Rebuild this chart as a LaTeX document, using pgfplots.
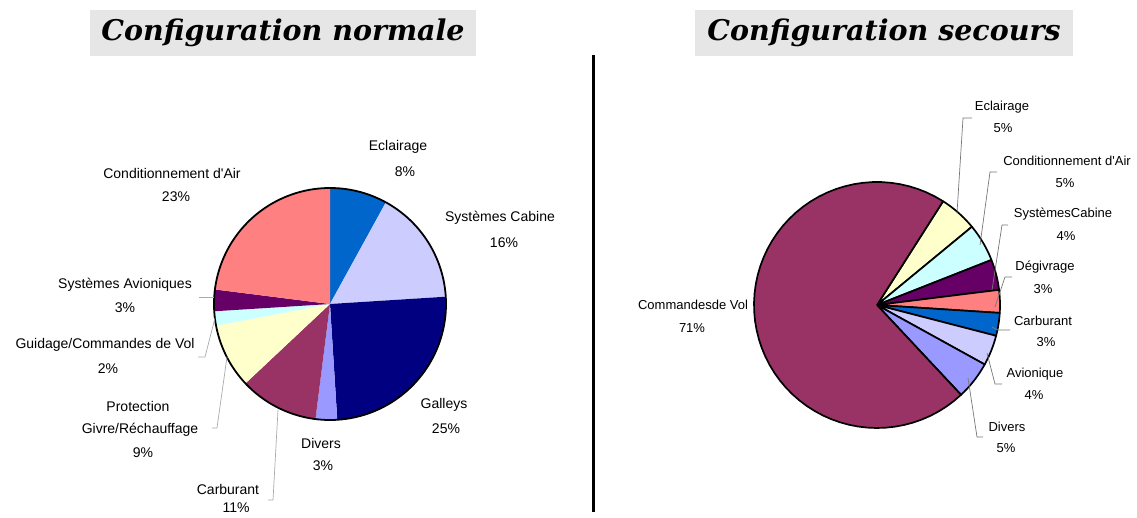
\documentclass[border=0pt]{standalone}
\usepackage{pgfplots}
\pgfplotsset{compat=1.18}
\usepackage{fontspec}
\setmainfont{Liberation Sans}
\newfontfamily\titlefont{DejaVu Serif}
\definecolor{cBlue}{HTML}{0066CC}
\definecolor{cLav}{HTML}{CCCCFF}
\definecolor{cNavy}{HTML}{000080}
\definecolor{cPeri}{HTML}{9999FF}
\definecolor{cMaroon}{HTML}{993366}
\definecolor{cYellow}{HTML}{FFFFCC}
\definecolor{cCyan}{HTML}{CCFFFF}
\definecolor{cPurple}{HTML}{660066}
\definecolor{cSalmon}{HTML}{FF8080}
\definecolor{titlegray}{HTML}{E6E6E6}
\definecolor{leader}{HTML}{AAAAAA}
\definecolor{leaderR}{HTML}{777777}
% sector: centre x, centre y, radius, end angle, start angle, colour, style
\newcommand{\pieSector}[7]{%
  \addplot[fill=#6, #7, domain=#4:#5, samples=60, variable=\t, forget plot]
    ({#1+#3*cos(\t)},{#2-#3*sin(\t)}) -- (axis cs:#1,#2) -- cycle;}
\newcommand{\pieLab}[4]{\node[font=\fontsize{#4}{#4}\selectfont, inner sep=0pt] at (axis cs:#1,#2) {#3};}
\begin{document}
\begin{tikzpicture}
\begin{axis}[x=1pt, y=1pt, xmin=0, xmax=1137, ymin=0, ymax=518,
  y dir=reverse, hide axis, clip=false]
\path (axis cs:0,0) rectangle (axis cs:1137,518);
% ---------- Configuration normale (percent: 8,16,25,3,11,9,2,3,23) ----------
\pieSector{330}{304}{116}{61.2}{90}{cBlue}{draw=none}        % Eclairage 8%
\pieSector{330}{304}{116}{3.6}{61.2}{cLav}{draw=none}        % Systemes Cabine 16%
\pieSector{330}{304}{116}{-86.4}{3.6}{cNavy}{draw=none}      % Galleys 25%
\pieSector{330}{304}{116}{-97.2}{-86.4}{cPeri}{draw=none}    % Divers 3%
\pieSector{330}{304}{116}{-136.8}{-97.2}{cMaroon}{draw=none} % Carburant 11%
\pieSector{330}{304}{116}{-169.2}{-136.8}{cYellow}{draw=none}% Protection 9%
\pieSector{330}{304}{116}{-176.4}{-169.2}{cCyan}{draw=none}  % Guidage 2%
\pieSector{330}{304}{116}{-187.2}{-176.4}{cPurple}{draw=none}% Avioniques 3%
\pieSector{330}{304}{116}{-270}{-187.2}{cSalmon}{draw=none}  % Conditionnement 23%
\addplot[black, line width=1.8pt, domain=0:360, samples=181, variable=\t, forget plot]
  ({330+116*cos(\t)},{304-116*sin(\t)});
% ---------- Configuration secours (percent: 5,5,4,3,3,4,5,71) ----------
\pieSector{877}{305}{123}{39.5}{57.5}{cYellow}{draw=black, line width=1.7pt, line join=round}
\pieSector{877}{305}{123}{21.5}{39.5}{cCyan}{draw=black, line width=1.7pt, line join=round}
\pieSector{877}{305}{123}{7.1}{21.5}{cPurple}{draw=black, line width=1.7pt, line join=round}
\pieSector{877}{305}{123}{-3.7}{7.1}{cSalmon}{draw=black, line width=1.7pt, line join=round}
\pieSector{877}{305}{123}{-14.5}{-3.7}{cBlue}{draw=black, line width=1.7pt, line join=round}
\pieSector{877}{305}{123}{-28.9}{-14.5}{cLav}{draw=black, line width=1.7pt, line join=round}
\pieSector{877}{305}{123}{-46.9}{-28.9}{cPeri}{draw=black, line width=1.7pt, line join=round}
\pieSector{877}{305}{123}{-302.5}{-46.9}{cMaroon}{draw=black, line width=1.7pt, line join=round}
% ---------- titles ----------
\node[fill=titlegray, minimum width=386pt, minimum height=46pt, inner sep=0pt]
  at (axis cs:283,33) {\titlefont\bfseries\itshape\fontsize{28.5}{31}\selectfont Configuration normale};
\node[fill=titlegray, minimum width=378pt, minimum height=46pt, inner sep=0pt]
  at (axis cs:884,33) {\titlefont\bfseries\itshape\fontsize{28.5}{31}\selectfont Configuration secours};
\draw[black, line width=3pt] (axis cs:593,55) -- (axis cs:593,512);
% ---------- left labels ----------
\pieLab{398}{147}{Eclairage}{14}  \pieLab{405}{172}{8\%}{14}
\pieLab{500}{218}{Systèmes Cabine}{14} \pieLab{504}{243}{16\%}{14}
\pieLab{444}{405}{Galleys}{14} \pieLab{446}{429}{25\%}{14}
\pieLab{321}{443}{Divers}{14} \pieLab{323}{466}{3\%}{14}
\pieLab{228}{489}{Carburant}{14} \pieLab{236}{508}{11\%}{14}
\pieLab{138}{406}{Protection}{14} \pieLab{140}{430}{Givre/Réchauffage}{14} \pieLab{143}{453}{9\%}{14}
\pieLab{105}{345}{Guidage/Commandes de Vol}{14} \pieLab{108}{369}{2\%}{14}
\pieLab{125}{285}{Systèmes Avioniques}{14} \pieLab{125}{308}{3\%}{14}
\pieLab{172}{173}{Conditionnement d\textquotesingle Air}{14} \pieLab{176}{197}{23\%}{14}
\draw[leader, line width=0.7pt] (axis cs:199,297) -- (axis cs:214,297);
\draw[leader, line width=0.7pt] (axis cs:198,357) -- (axis cs:205,357) -- (axis cs:215,318);
\draw[leader, line width=0.7pt] (axis cs:212,428) -- (axis cs:217,428) -- (axis cs:227,357);
\draw[leader, line width=0.7pt] (axis cs:268,500) -- (axis cs:273,500) -- (axis cs:278,410);
% ---------- right labels ----------
\pieLab{1002}{107}{Eclairage}{13} \pieLab{1003}{128}{5\%}{13}
\pieLab{1067}{161}{Conditionnement d\textquotesingle Air}{13} \pieLab{1065}{183}{5\%}{13}
\pieLab{1063}{214}{SystèmesCabine}{13} \pieLab{1066}{236}{4\%}{13}
\pieLab{1045}{267}{Dégivrage}{13} \pieLab{1043}{289}{3\%}{13}
\pieLab{1043}{321}{Carburant}{13} \pieLab{1046}{342}{3\%}{13}
\pieLab{1035}{374}{Avionique}{13} \pieLab{1034}{395}{4\%}{13}
\pieLab{1007}{427}{Divers}{13} \pieLab{1006}{448}{5\%}{13}
\pieLab{693}{305}{Commandesde Vol}{13} \pieLab{692}{328}{71\%}{13}
\draw[leaderR, line width=0.7pt] (axis cs:972,118) -- (axis cs:963,118) -- (axis cs:957,213);
\draw[leaderR, line width=0.7pt] (axis cs:997,172) -- (axis cs:990,172) -- (axis cs:980,245);
\draw[leaderR, line width=0.7pt] (axis cs:1008,225) -- (axis cs:1002,225) -- (axis cs:992,290);
\draw[leaderR, line width=0.7pt] (axis cs:1012,277) -- (axis cs:1005,277) -- (axis cs:995,307);
\draw[leaderR, line width=0.7pt] (axis cs:1010,330) -- (axis cs:998,330) -- (axis cs:992,327);
\draw[leaderR, line width=0.7pt] (axis cs:1002,384) -- (axis cs:995,384) -- (axis cs:987,353);
\draw[leaderR, line width=0.7pt] (axis cs:983,437) -- (axis cs:977,437) -- (axis cs:968,378);
\end{axis}
\end{tikzpicture}
\end{document}
